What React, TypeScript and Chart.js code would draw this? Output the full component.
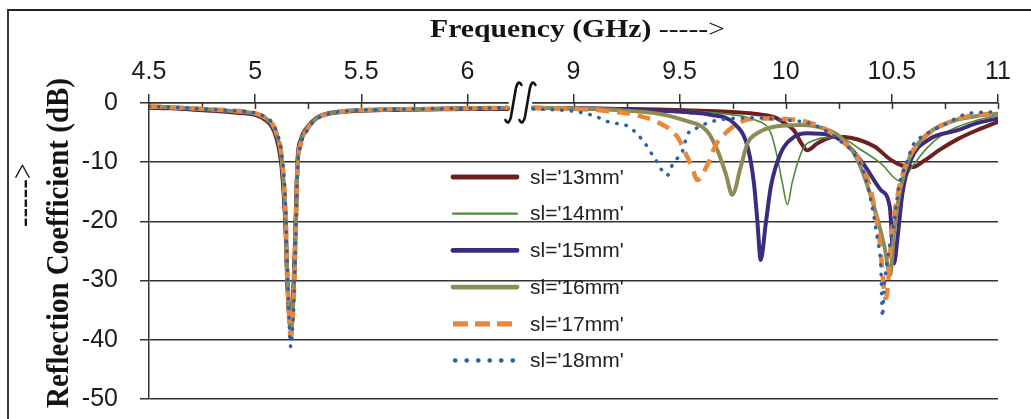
import React, { useEffect, useRef } from "react";
import { Chart, registerables } from "chart.js";

Chart.register(...registerables);

// ---------- data ----------
const xTickLabels = ["4.5", "5", "5.5", "6", "9", "9.5", "10", "10.5", "11"];
const minorTickFreqs = [4.75, 5.25, 5.75, 9.25, 9.75, 10.25, 10.75];
const seriesLabels = ["sl='13mm'", "sl='14mm'", "sl='15mm'", "sl='16mm'", "sl='17mm'", "sl='18mm'"];

// lower band (4.5 – 6.19 GHz), shared frequency grid
const leftFreq = [4.5, 4.6, 4.7, 4.8, 4.9, 5.0, 5.05, 5.08, 5.1, 5.125, 5.143, 5.152, 5.168, 5.184, 5.192, 5.2, 5.215, 5.245, 5.29, 5.35, 5.45, 5.6, 5.8, 6.0, 6.19];
const left13 = [-0.8, -0.9, -1.1, -1.3, -1.6, -2.0, -2.9, -4.1, -5.9, -11, -21, -31, -37.5, -28, -18, -9.5, -6.2, -4.1, -2.5, -1.8, -1.4, -1.2, -1.1, -1.0, -1.0];
const left14 = [-0.7, -0.8, -1.0, -1.2, -1.5, -1.9, -2.7, -3.8, -5.5, -10, -20, -30, -38.3, -29, -19, -10, -6.5, -4.2, -2.4, -1.7, -1.3, -1.1, -1.0, -0.9, -0.9];
const left15 = [-0.7, -0.8, -1.0, -1.2, -1.5, -1.9, -2.7, -3.8, -5.5, -10, -20, -30, -38, -29.5, -19.5, -10, -6.5, -4.3, -2.5, -1.7, -1.3, -1.1, -1.0, -0.9, -0.9];
const left16 = [-0.6, -0.7, -0.9, -1.1, -1.4, -1.8, -2.6, -3.6, -5.2, -9.5, -19, -29.5, -38.5, -30, -20, -10.5, -6.7, -4.4, -2.6, -1.8, -1.3, -1.1, -1.0, -0.9, -0.8];
const left17 = [-0.6, -0.7, -0.9, -1.1, -1.3, -1.7, -2.5, -3.4, -5.0, -9, -18, -29, -39.5, -31, -21, -11, -7, -4.5, -2.6, -1.8, -1.3, -1.1, -1.0, -0.9, -0.8];
const left18 = [-0.6, -0.7, -0.9, -1.1, -1.3, -1.7, -2.4, -3.3, -4.8, -8.5, -17, -28, -41.2, -32, -22, -11.5, -7.2, -4.6, -2.7, -1.8, -1.3, -1.1, -1.0, -0.9, -0.8];

// upper band (8.81 – 11 GHz)
const right13Freq = [8.81, 9.0, 9.2, 9.4, 9.6, 9.75, 9.85, 9.945, 9.99, 10.04, 10.07, 10.10, 10.15, 10.23, 10.31, 10.42, 10.495, 10.55, 10.6, 10.65, 10.73, 10.81, 10.9, 11.0];
const right13 = [-0.8, -0.9, -1.0, -1.1, -1.3, -1.5, -1.8, -2.4, -3.3, -4.7, -6.6, -8.0, -6.8, -5.7, -5.9, -7.4, -9.6, -10.6, -10.8, -9.8, -7.8, -6.1, -4.6, -3.2];

const right14Freq = [8.81, 9.0, 9.2, 9.4, 9.6, 9.75, 9.85, 9.93, 9.96, 9.984, 10.008, 10.03, 10.055, 10.087, 10.134, 10.2, 10.26, 10.354, 10.448, 10.54, 10.6, 10.668, 10.74, 10.81, 10.9, 11.0];
const right14 = [-0.8, -0.9, -1.0, -1.2, -1.5, -2.0, -2.8, -5.1, -9.1, -13.5, -17.2, -13.5, -10.2, -7.4, -6.3, -5.8, -5.9, -7.9, -10.2, -13.2, -10.5, -7.5, -5.3, -4.0, -2.9, -2.1];

const right15Freq = [8.81, 9.0, 9.2, 9.4, 9.55, 9.646, 9.755, 9.82, 9.85, 9.866, 9.882, 9.906, 9.93, 9.976, 10.04, 10.1, 10.21, 10.307, 10.37, 10.448, 10.49, 10.51, 10.526, 10.55, 10.59, 10.668, 10.81, 10.9, 11.0];
const right15 = [-0.8, -0.9, -1.0, -1.3, -1.6, -2.0, -3.4, -7.4, -13.5, -19.8, -26.5, -20.3, -14.1, -8.5, -5.7, -5.1, -5.4, -7.7, -10.5, -14.7, -17.5, -27.1, -23, -15.2, -9.6, -6.3, -4.6, -3.4, -2.6];

const right16Freq = [8.81, 9.0, 9.2, 9.4, 9.52, 9.63, 9.677, 9.717, 9.748, 9.788, 9.82, 9.866, 9.945, 10.07, 10.18, 10.26, 10.338, 10.416, 10.465, 10.492, 10.51, 10.54, 10.58, 10.63, 10.7, 10.8, 10.9, 11.0];
const right16 = [-0.8, -0.9, -1.2, -1.8, -2.9, -4.8, -7.9, -11.9, -15.5, -10.8, -6.8, -5.1, -4.0, -3.7, -4.3, -5.8, -9.6, -17.5, -24.3, -29.0, -22, -14.5, -9.5, -6.6, -4.4, -2.9, -2.2, -1.8];

const right17Freq = [8.81, 9.0, 9.2, 9.3, 9.395, 9.489, 9.528, 9.56, 9.583, 9.63, 9.67, 9.725, 9.788, 9.866, 10.0, 10.1, 10.18, 10.26, 10.338, 10.40, 10.44, 10.472, 10.50, 10.53, 10.57, 10.62, 10.7, 10.85, 11.0];
const right17 = [-0.9, -1.0, -1.5, -2.1, -3.2, -5.7, -8.5, -11.0, -13.0, -10.5, -7.1, -4.8, -3.2, -2.6, -2.7, -3.2, -4.3, -6.3, -9.1, -14.7, -22.6, -33, -22, -15, -10, -7, -4.5, -2.3, -1.7];

const right18Freq = [8.81, 9.0, 9.1, 9.165, 9.26, 9.33, 9.387, 9.442, 9.47, 9.513, 9.536, 9.583, 9.646, 9.75, 9.85, 10.0, 10.1, 10.18, 10.26, 10.32, 10.37, 10.416, 10.432, 10.448, 10.456, 10.462, 10.49, 10.51, 10.53, 10.574, 10.60, 10.65, 10.73, 10.87, 11.0];
const right18 = [-1.0, -1.4, -2.2, -3.2, -4.0, -6.5, -9.6, -12.2, -10.1, -8.2, -5.4, -4.2, -3.2, -2.6, -2.5, -2.9, -3.3, -4.5, -6.5, -8.5, -11.9, -19.3, -23.1, -27.6, -36.1, -32, -24, -20.3, -14.7, -9.6, -7.1, -5.5, -4.0, -1.7, -1.5];

// ---------- broken axis mapping ----------
const LOW_START = 4.5; // frequency at axis position 0
const HIGH_SHIFT = 7.0; // upper band: position = f - 7
const GAP_POS = 1.75;
const toPos = (f: number) => (f < 7.5 ? f - LOW_START : f - HIGH_SHIFT);

function buildPoints(lf: number[], ld: number[], rf: number[], rd: number[]) {
  const pts: { x: number; y: number | null }[] = [];
  lf.forEach((f, i) => pts.push({ x: toPos(f), y: ld[i] }));
  pts.push({ x: GAP_POS, y: null });
  rf.forEach((f, i) => pts.push({ x: toPos(f), y: rd[i] }));
  return pts;
}

const styles = [
  { color: "#6e1f1f", width: 4, dash: [] as number[], cap: "round" },
  { color: "#4f8a3a", width: 1.6, dash: [] as number[], cap: "round" },
  { color: "#3d2b7e", width: 4, dash: [] as number[], cap: "round" },
  { color: "#8e8b55", width: 4, dash: [] as number[], cap: "round" },
  { color: "#e8883a", width: 4.5, dash: [13, 8], cap: "butt" },
  { color: "#2a63a8", width: 3.5, dash: [0.5, 9], cap: "round" },
];

const FONT_SANS = '"Liberation Sans", Arial, sans-serif';
const FONT_SERIF = '"Liberation Serif", "Times New Roman", serif';

const decorPlugin = {
  id: "decor",
  beforeDraw(chart: any) {
    const ctx = chart.ctx;
    ctx.save();
    ctx.fillStyle = "#ffffff";
    ctx.fillRect(0, 0, chart.width, chart.height);
    ctx.strokeStyle = "#222";
    ctx.lineWidth = 1.8;
    ctx.beginPath();
    ctx.moveTo(8, chart.height);
    ctx.lineTo(8, 10);
    ctx.lineTo(chart.width, 10);
    ctx.stroke();
    ctx.restore();
  },
  beforeDatasetsDraw(chart: any) {
    const ctx = chart.ctx;
    const xs = chart.scales.x;
    const top = chart.chartArea.top;
    ctx.save();
    // minor & major tick extension below axis
    ctx.strokeStyle = "#333";
    ctx.lineWidth = 1.5;
    const all = minorTickFreqs.map(toPos).concat([0, 0.5, 1, 1.5, 2, 2.5, 3, 3.5, 4]);
    all.forEach((u) => {
      const px = Math.round(xs.getPixelForValue(u)) + 0.5;
      ctx.beginPath();
      ctx.moveTo(px, top);
      ctx.lineTo(px, top + 6);
      ctx.stroke();
    });
    // axis break gap
    const x1 = xs.getPixelForValue(toPos(6.19)) + 1;
    const x2 = xs.getPixelForValue(toPos(8.81)) - 1;
    ctx.fillStyle = "#ffffff";
    ctx.fillRect(x1, top - 6, x2 - x1, 12);
    // break marks
    ctx.strokeStyle = "#111";
    ctx.lineWidth = 2.6;
    ctx.lineCap = "round";
    const mid = (x1 + x2) / 2;
    [mid - 7, mid + 7].forEach((cx) => {
      ctx.beginPath();
      ctx.moveTo(cx - 8, top + 17);
      ctx.quadraticCurveTo(cx - 5, top + 23, cx - 2.5, top + 14);
      ctx.lineTo(cx + 2.5, top - 15);
      ctx.quadraticCurveTo(cx + 5, top - 24, cx + 8, top - 18);
      ctx.stroke();
    });
    ctx.restore();
  },
  afterDatasetsDraw(chart: any) {
    const ctx = chart.ctx;
    ctx.save();
    const x0 = 453, x1 = 517, tx = 530, y0 = 177, dy = 36.7;
    chart.data.datasets.forEach((ds: any, i: number) => {
      const y = y0 + i * dy;
      ctx.strokeStyle = ds.borderColor;
      ctx.lineWidth = i === 1 ? 2.2 : ds.borderWidth + 0.8;
      ctx.lineCap = ds.borderCapStyle;
      ctx.setLineDash(i === 5 ? [0.5, 11] : i === 4 ? [15, 7] : []);
      ctx.beginPath();
      ctx.moveTo(x0 + (i === 5 ? 2 : 0), y);
      ctx.lineTo(x1, y);
      ctx.stroke();
      ctx.setLineDash([]);
      ctx.fillStyle = "#222";
      ctx.font = `21px ${FONT_SANS}`;
      ctx.textBaseline = "middle";
      ctx.textAlign = "left";
      ctx.fillText(ds.label, tx, y + 1);
    });
    ctx.restore();
  },
  afterDraw(chart: any) {
    const ctx = chart.ctx;
    ctx.save();
    ctx.fillStyle = "#141414";
    // x title
    const t1 = "Frequency (GHz)";
    const t2 = " ----->";
    ctx.font = `bold 25px ${FONT_SERIF}`;
    const w1 = ctx.measureText(t1).width;
    ctx.font = `25px ${FONT_SERIF}`;
    const w2 = ctx.measureText(t2).width;
    const sx = 295 / (w1 + w2);
    ctx.translate(430, 37);
    ctx.scale(sx, 1);
    ctx.textBaseline = "alphabetic";
    ctx.textAlign = "left";
    ctx.font = `bold 25px ${FONT_SERIF}`;
    ctx.fillText(t1, 0, 0);
    ctx.font = `25px ${FONT_SERIF}`;
    ctx.fillText(t2, w1, 0);
    ctx.restore();

    // y title
    ctx.save();
    ctx.fillStyle = "#141414";
    const yt = "Reflection Coefficient (dB)";
    ctx.font = `bold 32px ${FONT_SERIF}`;
    const wy = ctx.measureText(yt).width;
    ctx.translate(68, 408);
    ctx.rotate(-Math.PI / 2);
    ctx.scale(330 / wy, 1);
    ctx.textBaseline = "alphabetic";
    ctx.textAlign = "left";
    ctx.fillText(yt, 0, 0);
    ctx.restore();

    // y arrow
    ctx.save();
    ctx.fillStyle = "#141414";
    const ya = "----->";
    ctx.font = `32px ${FONT_SERIF}`;
    const wa = ctx.measureText(ya).width;
    ctx.translate(33, 227);
    ctx.rotate(-Math.PI / 2);
    ctx.scale(64 / wa, 1);
    ctx.textBaseline = "alphabetic";
    ctx.textAlign = "left";
    ctx.fillText(ya, 0, 0);
    ctx.restore();
  },
};

export default function App() {
  const ref = useRef<HTMLCanvasElement>(null);

  useEffect(() => {
    const lefts = [left13, left14, left15, left16, left17, left18];
    const rightF = [right13Freq, right14Freq, right15Freq, right16Freq, right17Freq, right18Freq];
    const rightD = [right13, right14, right15, right16, right17, right18];
    const datasets = seriesLabels.map((label, i) => ({
      label,
      data: buildPoints(leftFreq, lefts[i], rightF[i], rightD[i]),
      borderColor: styles[i].color,
      backgroundColor: styles[i].color,
      borderWidth: styles[i].width,
      borderDash: styles[i].dash,
      borderCapStyle: styles[i].cap,
      borderJoinStyle: "round",
      pointRadius: 0,
      cubicInterpolationMode: "monotone",
      spanGaps: false,
      order: 5 - i,
    }));

    const chart = new Chart(ref.current as HTMLCanvasElement, {
      type: "line",
      data: { datasets } as any,
      options: {
        animation: false,
        responsive: false,
        devicePixelRatio: 1,
        layout: { padding: { left: 0, top: 0, right: 33, bottom: 20 } },
        plugins: { legend: { display: false }, title: { display: false }, tooltip: { enabled: false } },
        scales: {
          x: {
            type: "linear",
            position: "top",
            min: 0,
            max: 4,
            afterFit: (s: any) => { s.height = 103; },
            ticks: {
              stepSize: 0.5,
              autoSkip: false,
              maxRotation: 0,
              padding: 7,
              color: "#1c1c1c",
              font: { family: FONT_SANS, size: 25 },
              callback: (_v: any, idx: number) => xTickLabels[idx],
            },
            grid: { drawOnChartArea: false, drawTicks: true, tickLength: 9, color: "#333", lineWidth: 1.5 },
            border: { display: true, color: "#333", width: 1.5 },
          },
          y: {
            type: "linear",
            min: -50,
            max: 0,
            afterFit: (s: any) => {
              s.width = 149;
              s.paddingTop = 0;
              s.paddingBottom = 0;
            },
            ticks: {
              stepSize: 10,
              padding: 22,
              color: "#1c1c1c",
              font: { family: FONT_SANS, size: 25 },
            },
            grid: { color: "#333", lineWidth: 1.5, tickLength: 9, drawTicks: true },
            border: { display: true, color: "#333", width: 1.5 },
          },
        },
      } as any,
      plugins: [decorPlugin],
    });
    return () => chart.destroy();
  }, []);

  return (
    <div style={{ position: "absolute", left: 0, top: 0, width: 1031, height: 419, background: "#fff" }}>
      <canvas ref={ref} width={1031} height={419} style={{ display: "block", width: 1031, height: 419 }} />
    </div>
  );
}
